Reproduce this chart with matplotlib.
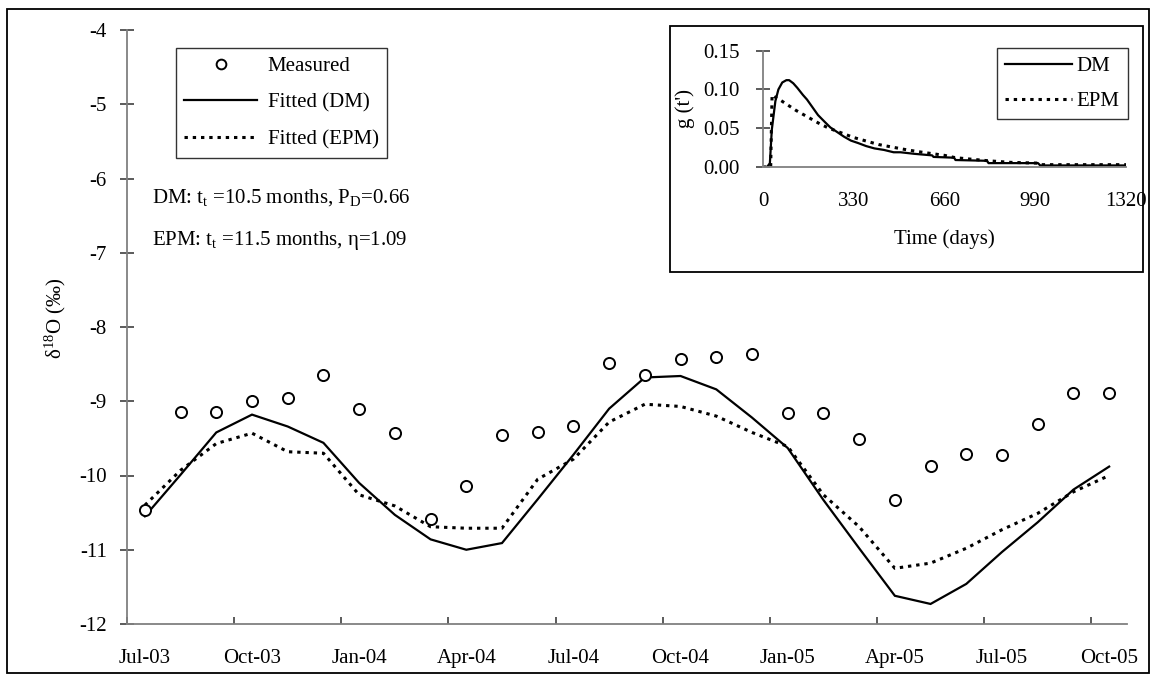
import matplotlib
matplotlib.use("Agg")
import matplotlib.pyplot as plt
from matplotlib.patches import Rectangle
from matplotlib.lines import Line2D

# ---- data -------------------------------------------------------------
month_labels = ["Jul-03", "Oct-03", "Jan-04", "Apr-04", "Jul-04",
                "Oct-04", "Jan-05", "Apr-05", "Jul-05", "Oct-05"]

# monthly values, Jul-03 ... Oct-05
measured = [-10.47, -9.14, -9.14, -9.00, -8.95, -8.65, -9.11, -9.43,
            -10.58, -10.14, -9.46, -9.41, -9.33, -8.48, -8.64, -8.43,
            -8.40, -8.37, -9.16, -9.16, -9.51, -10.33, -9.87, -9.71,
            -9.73, -9.30, -8.89, -8.89]
fitted_dm = [-10.55, -9.99, -9.42, -9.18, -9.34, -9.56, -10.10, -10.53,
             -10.86, -11.00, -10.91, -10.32, -9.72, -9.10, -8.68, -8.66,
             -8.84, -9.22, -9.63, -10.33, -10.98, -11.62, -11.73, -11.46,
             -11.03, -10.63, -10.19, -9.88]
fitted_epm = [-10.40, -9.93, -9.57, -9.43, -9.68, -9.70, -10.26, -10.41,
              -10.69, -10.71, -10.71, -10.05, -9.78, -9.28, -9.04, -9.07,
              -9.20, -9.42, -9.61, -10.26, -10.69, -11.25, -11.18, -10.98,
              -10.73, -10.51, -10.22, -10.00]

# transit time distributions g(t') for the inset
dm_days = [0, 15, 25, 32, 45, 56, 70, 85, 95, 110, 125, 145, 160, 180, 200,
           225, 245, 270, 295, 320, 345, 375, 405, 440, 475, 500, 550, 615,
           620, 695, 700, 815, 820, 1000, 1008, 1320]
dm_g = [0.000, 0.000, 0.005, 0.048, 0.085, 0.100, 0.109, 0.112, 0.112,
        0.108, 0.102, 0.093, 0.087, 0.077, 0.067, 0.058, 0.051, 0.045,
        0.039, 0.034, 0.031, 0.027, 0.024, 0.022, 0.019, 0.019, 0.017,
        0.015, 0.013, 0.012, 0.009, 0.008, 0.005, 0.005, 0.002, 0.002]
epm_days = [0, 28, 30, 33, 45, 60, 90, 120, 150, 180, 210, 240, 270, 300,
            330, 360, 390, 420, 450, 480, 510, 560, 620, 660, 700, 760,
            820, 900, 1000, 1010, 1320]
epm_g = [0.000, 0.000, 0.040, 0.093, 0.090, 0.087, 0.080, 0.073, 0.067,
         0.061, 0.055, 0.050, 0.046, 0.042, 0.038, 0.035, 0.032, 0.029,
         0.027, 0.025, 0.023, 0.020, 0.017, 0.015, 0.012, 0.010, 0.008,
         0.006, 0.005, 0.003, 0.003]
inset_xticks = [0, 330, 660, 990, 1320]
inset_yticks = [0.00, 0.05, 0.10, 0.15]

# ---- style ------------------------------------------------------------
plt.rcParams["font.family"] = ["Liberation Serif", "DejaVu Sans"]
plt.rcParams["mathtext.fontset"] = "custom"
plt.rcParams["mathtext.rm"] = "Liberation Serif"
plt.rcParams["mathtext.it"] = "Liberation Serif:italic"
FS = 15
AXIS_GREY = "#808080"
DOT = (0, (1.1, 1.6))

W, H = 1151, 675
fig = plt.figure(figsize=(W / 100, H / 100), dpi=100)


def fx(px):
    return px / W


def fy(py):
    return 1 - py / H


# outer chart frame
fig.patches.append(Rectangle((fx(7), fy(673)), fx(1149) - fx(7), fy(9) - fy(673),
                             transform=fig.transFigure, fill=False,
                             edgecolor="black", linewidth=1.3))

# ---- main panel -------------------------------------------------------
ax = fig.add_axes([fx(127), fy(624), fx(1127) - fx(127), fy(30) - fy(624)])
x = list(range(len(measured)))
ax.plot(x, fitted_dm, color="black", lw=1.6, solid_joinstyle="miter")
ax.plot(x, fitted_epm, color="black", lw=2.2, linestyle=DOT,
        dash_capstyle="butt")
ax.plot(x, measured, linestyle="none", marker="o", ms=8,
        mfc="white", mec="black", mew=1.4)

ax.set_xlim(-0.5, len(measured) - 0.5)
ax.set_ylim(-12, -4)
ax.set_yticks(range(-12, -3))
ax.set_yticklabels([str(v) for v in range(-12, -3)])
bounds = [i * 3 - 0.5 for i in range(len(month_labels))]
centers = [i * 3 for i in range(len(month_labels))]
ax.set_xticks(bounds)
ax.set_xticklabels([""] * len(bounds))
ax.set_xticks(centers, minor=True)
ax.set_xticklabels(month_labels, minor=True)
ax.tick_params(axis="x", which="major", direction="in", length=5,
               width=1.2, color="#404040")
ax.tick_params(axis="x", which="minor", length=0, pad=18, labelsize=FS)
ax.tick_params(axis="y", direction="inout", length=10, width=1.2,
               color="#404040", pad=9.5, labelsize=FS)
for s in ("top", "right"):
    ax.spines[s].set_visible(False)
for s in ("left", "bottom"):
    ax.spines[s].set_color(AXIS_GREY)
    ax.spines[s].set_linewidth(1.3)

fig.text(fx(55), fy(318), "δ$^{\\mathrm{18}}$O (‰)", rotation=90,
         ha="center", va="center", fontsize=FS)

handles = [Line2D([], [], linestyle="none", marker="o", ms=7, mfc="white",
                  mec="black", mew=1.4),
           Line2D([], [], color="black", lw=1.6),
           Line2D([], [], color="black", lw=2.2, linestyle=DOT,
                  dash_capstyle="butt")]
leg = ax.legend(handles, ["Measured", "Fitted (DM)", "Fitted (EPM)"],
                loc="upper left", bbox_to_anchor=(fx(176), fy(48)),
                bbox_transform=fig.transFigure, borderaxespad=0,
                fontsize=FS, frameon=True, fancybox=False, handlelength=3.5,
                handletextpad=0.5, labelspacing=0.82, borderpad=0.4,
                markerfirst=True)
leg.get_frame().set_edgecolor("black")
leg.get_frame().set_linewidth(1.0)

fig.text(fx(152), fy(203),
         r"DM: t$_{\mathrm{t}}$ =10.5 months, P$_{\mathrm{D}}$=0.66",
         fontsize=FS, va="baseline", ha="left")
fig.text(fx(152), fy(245),
         r"EPM: t$_{\mathrm{t}}$ =11.5 months, η=1.09",
         fontsize=FS, va="baseline", ha="left")

# ---- inset ------------------------------------------------------------
fig.patches.append(Rectangle((fx(670), fy(272)), fx(1143) - fx(670), fy(26) - fy(272),
                             transform=fig.transFigure, fill=True,
                             facecolor="white", edgecolor="black",
                             linewidth=1.3, zorder=3))
axi = fig.add_axes([fx(763), fy(167), fx(1126) - fx(763), fy(50.7) - fy(167)],
                   zorder=5)
axi.patch.set_alpha(0)
axi.plot(dm_days, dm_g, color="black", lw=1.6)
axi.plot(epm_days, epm_g, color="black", lw=2.2, linestyle=DOT,
         dash_capstyle="butt")
axi.set_xlim(0, 1320)
axi.set_ylim(0, 0.15)
axi.set_xticks(inset_xticks)
axi.set_xticklabels([str(v) for v in inset_xticks])
axi.set_yticks(inset_yticks)
axi.set_yticklabels([f"{v:.2f}" for v in inset_yticks])
axi.tick_params(axis="x", length=0, pad=18, labelsize=FS)
axi.tick_params(axis="y", direction="inout", length=10, width=1.2,
                color="#404040", pad=11.5, labelsize=FS)
for s in ("top", "right"):
    axi.spines[s].set_visible(False)
for s in ("left", "bottom"):
    axi.spines[s].set_color(AXIS_GREY)
    axi.spines[s].set_linewidth(1.3)
axi.set_xlabel("Time (days)", fontsize=FS, labelpad=13)
axi.set_ylabel("g (t')", fontsize=FS, labelpad=6)

ileg = axi.legend([Line2D([], [], color="black", lw=1.6),
                   Line2D([], [], color="black", lw=2.2, linestyle=DOT,
                          dash_capstyle="butt")],
                  ["DM", "EPM"], loc="upper left",
                  bbox_to_anchor=(fx(997), fy(48)),
                  bbox_transform=fig.transFigure, borderaxespad=0,
                  fontsize=FS, frameon=True, fancybox=False,
                  handlelength=3.2, handletextpad=0.2, labelspacing=0.75,
                  borderpad=0.4)
ileg.get_frame().set_edgecolor("black")
ileg.get_frame().set_linewidth(1.0)

fig.savefig("out.png", dpi=100)
